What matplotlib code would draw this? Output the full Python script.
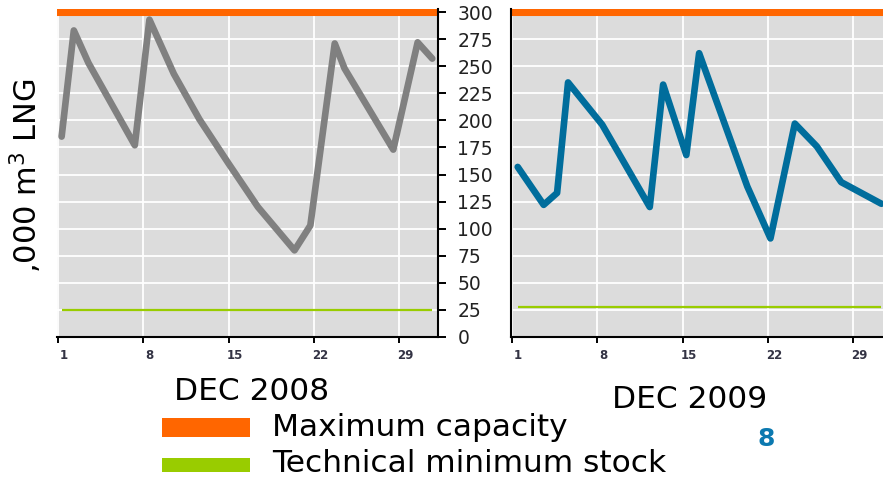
import matplotlib
matplotlib.use('Agg')
import matplotlib.pyplot as plt
import matplotlib.transforms as mtransforms
from matplotlib.patches import Rectangle

# LNG stock, '000 m3
days_2008 = [1.3, 2.3, 3.5, 7.3, 8.5, 10.5, 12.6, 15.0, 17.4, 20.4, 21.7, 23.7, 24.5, 28.5, 30.5, 31.7]
stock_2008 = [185, 283, 253, 177, 293, 243, 201, 160, 120, 80, 103, 271, 248, 173, 272, 257]

days_2009 = [1.47, 3.6, 4.7, 5.6, 8.4, 12.3, 13.4, 15.3, 16.35, 20.3, 22.2, 24.2, 26.0, 28.0, 31.3]
stock_2009 = [157, 122, 133, 235, 196, 120, 233, 168, 262, 139, 91, 197, 176, 143, 123]

max_capacity = 300
tech_min_2008 = 25
tech_min_2009 = 28

x_ticks = [1, 8, 15, 22, 29]
y_ticks = list(range(0, 301, 25))
panel_labels = ["DEC 2008", "DEC 2009"]
legend_labels = ["Maximum capacity", "Technical minimum stock"]

ORANGE = '#ff6600'
GREEN = '#99cc00'
GRAY = '#808080'
BLUE = '#006d9c'
BG = '#dcdcdc'

W, H = 883, 479
fig = plt.figure(figsize=(W / 100, H / 100), dpi=100)


def px(x, y):
    # pixel position (from top-left) -> figure fraction
    return x / W, 1 - y / H


ax_w = 381 / W
ax_b = (H - 337) / H
ax_h = 328 / H
ax1 = fig.add_axes([57 / W, ax_b, ax_w, ax_h])
ax2 = fig.add_axes([511 / W, ax_b, ax_w, ax_h])

panels = [(ax1, days_2008, stock_2008, GRAY, tech_min_2008),
          (ax2, days_2009, stock_2009, BLUE, tech_min_2009)]

for ax, days, stock, col, tmin in panels:
    ax.set_facecolor(BG)
    ax.set_xlim(0.92, 32.17)
    ax.set_ylim(0, 302.8)
    ax.set_xticks(x_ticks)
    ax.set_yticks(y_ticks)
    ax.grid(True, color='white', linewidth=1.3)
    ax.set_axisbelow(True)
    ax.axhline(max_capacity, color=ORANGE, linewidth=5.8, solid_capstyle='butt')
    ax.hlines(tmin, days[0], days[-1], color=GREEN, linewidth=1.6)
    ax.plot(days, stock, color=col, linewidth=4.8, solid_capstyle='round',
            solid_joinstyle='round')
    for s in ['top', 'left', 'right']:
        ax.spines[s].set_visible(False)
    ax.spines['bottom'].set_linewidth(1.5)
    ax.tick_params(axis='x', direction='out', length=4.5, width=1.4, pad=4,
                   labelsize=8.5, labelcolor='#333344')
    for lab in ax.get_xticklabels():
        lab.set_fontweight('bold')
        lab.set_transform(lab.get_transform() +
                          mtransforms.ScaledTranslation(0.06, 0, fig.dpi_scale_trans))

# left panel: y axis drawn on its right side
ax1.spines['right'].set_visible(True)
ax1.spines['right'].set_linewidth(1.5)
ax1.yaxis.tick_right()
ax1.tick_params(axis='y', direction='out', length=6, width=1.4, pad=8,
                labelsize=13.5, labelcolor='#222222')

# right panel: plain left spine, no y labels
ax2.spines['left'].set_visible(True)
ax2.spines['left'].set_linewidth(1.5)
ax2.tick_params(axis='y', length=0, labelleft=False)

# axis title
x, y = px(37, 176)
fig.text(x, y, ",000 m$^3$ LNG", rotation=90, rotation_mode='anchor',
         ha='center', va='baseline', fontsize=22)

# month captions
x, y = px(251.5, 400)
fig.text(x, y, panel_labels[0], ha='center', va='baseline', fontsize=22.5)
x, y = px(690, 408)
fig.text(x, y, panel_labels[1], ha='center', va='baseline', fontsize=22.5)

# legend
for (y_top, y_bot, col), label, base in zip(
        [(418, 437, ORANGE), (458, 472, GREEN)], legend_labels, [436, 472]):
    x0, y0 = px(162, y_bot)
    fig.add_artist(Rectangle((x0, y0), 88 / W, (y_bot - y_top) / H,
                             transform=fig.transFigure, facecolor=col,
                             edgecolor='none'))
    x, y = px(272, base)
    fig.text(x, y, label, ha='left', va='baseline', fontsize=22.5)

# page number
x, y = px(766, 439)
fig.text(x, y, "8", ha='center', va='center', fontsize=18, fontweight='bold',
         color='#0b79b0')

fig.savefig('out.png', dpi=100)
